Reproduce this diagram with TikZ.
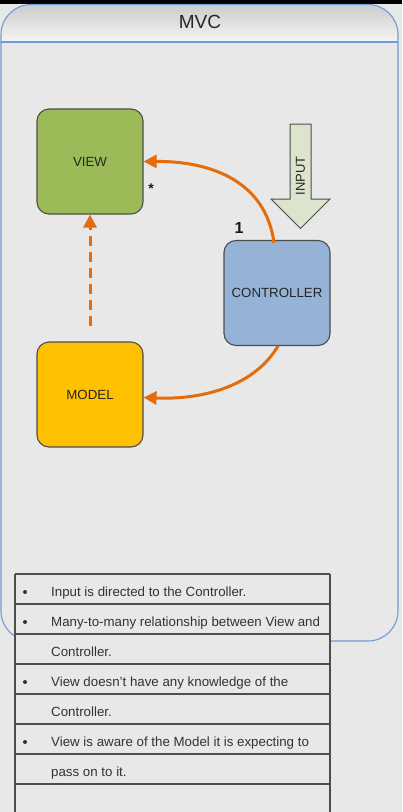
\documentclass[tikz,border=0pt]{standalone}
\usepackage{fontspec}
\setmainfont{Liberation Sans}
\usetikzlibrary{arrows.meta}
\definecolor{bg}{HTML}{E8E8E8}
\definecolor{poolblue}{HTML}{6F9BD8}
\definecolor{viewgreen}{HTML}{9BBB59}
\definecolor{ctrlblue}{HTML}{95B3D7}
\definecolor{modelyellow}{HTML}{FFC000}
\definecolor{orangeline}{HTML}{E46C0A}
\definecolor{inputfill}{HTML}{DDE4CD}
\definecolor{boxline}{HTML}{4D4D4D}
\definecolor{txt}{HTML}{333333}
\begin{document}
\begin{tikzpicture}[x=1pt,y=-1pt,
  mvcbox/.style={draw=boxline, line width=1.1pt, rounded corners=12pt,
    minimum width=106pt, minimum height=105pt, inner sep=0pt,
    font=\fontsize{13.3}{15}\selectfont, text=black!85},
  flow/.style={draw=orangeline, line width=3pt,
    -{Triangle[length=13pt,width=13pt]}},
  rowtext/.style={anchor=base west, inner sep=0pt, text=txt,
    font=\fontsize{13.3}{15}\selectfont},
  bulletdot/.style={circle, fill=txt, inner sep=0pt, minimum size=4pt}]
\useasboundingbox (0,0) rectangle (402,812);
\fill[bg] (0,0) rectangle (402,812);
\fill[black] (0,0) rectangle (402,3.5);
% pool
\fill[bg, rounded corners=30pt] (1,300) -- (1,4.5) -- (398,4.5) -- (398,641) -- (1,641) -- cycle;
\begin{scope}
  \clip[rounded corners=30pt] (1,300) -- (1,4.5) -- (398,4.5) -- (398,641) -- (1,641) -- cycle;
  \shade[top color=black!20, bottom color=black!4] (0,4.5) rectangle (402,42);
\end{scope}
\draw[poolblue, line width=1.1pt] (1,42) -- (398,42);
\draw[poolblue, line width=1.1pt, rounded corners=30pt] (1,300) -- (1,4.5) -- (398,4.5) -- (398,641) -- (1,641) -- cycle;
\node (title) at (200,22) {\fontsize{19}{21}\selectfont\color{black!85}MVC};
% boxes
\node[mvcbox, fill=viewgreen] (view) at (90,161.5) {VIEW};
\node[mvcbox, fill=ctrlblue] (ctrl) at (277,293) {CONTROLLER};
\node[mvcbox, fill=modelyellow] (model) at (90,394.5) {MODEL};
% input arrow
\draw[fill=inputfill, draw=boxline, line width=1pt] (290,124) -- (311,124) -- (311,199) -- (330,199) -- (300.5,228.5) -- (271,199) -- (290,199) -- cycle;
\node[rotate=90, text=black!85, font=\fontsize{13}{15}\selectfont] (input) at (300.5,176) {INPUT};
% labels
\node[font=\fontsize{16}{18}\selectfont\bfseries, text=black!90] (one) at (239,228) {1};
\node[font=\fontsize{14}{16}\selectfont\bfseries, text=black!90] (star) at (151,189) {*};
% connectors
\draw[flow] ([xshift=-3pt,yshift=-3pt]ctrl.north) .. controls (266,182) and (212,161) .. (view.east);
\draw[flow] ([xshift=1pt]ctrl.south) .. controls (255,385) and (205,400) .. ([yshift=-3pt]model.east);
\coordinate (dashstart) at ([yshift=15pt]model.north);
\draw[orangeline, line width=3pt, dash pattern=on 10pt off 6pt,
  -{Triangle[length=13pt,width=13pt]}] (dashstart) -- (view.south);
% table
\fill[bg] (15,574) rectangle (330,820);
\foreach \yy in {574,604,634,664,694,724,754,784}{
  \draw[boxline, line width=1.1pt] (15,\yy) -- (330,\yy);
}
\draw[boxline, line width=1.1pt] (15,574) -- (15,820);
\draw[boxline, line width=1.1pt] (330,574) -- (330,820);
\node[bulletdot] (b1) at (25,592) {};
\node[bulletdot] (b2) at (25,622) {};
\node[bulletdot] (b3) at (25,682) {};
\node[bulletdot] (b4) at (25,742) {};
\node[rowtext] (t1) at (51,596) {Input is directed to the Controller.};
\node[rowtext] (t2) at (51,626) {Many-to-many relationship between View and};
\node[rowtext] (t3) at (51,656) {Controller.};
\node[rowtext] (t4) at (51,686) {View doesn't have any knowledge of the};
\node[rowtext] (t5) at (51,716) {Controller.};
\node[rowtext] (t6) at (51,746) {View is aware of the Model it is expecting to};
\node[rowtext] (t7) at (51,776) {pass on to it.};
\end{tikzpicture}
\end{document}
